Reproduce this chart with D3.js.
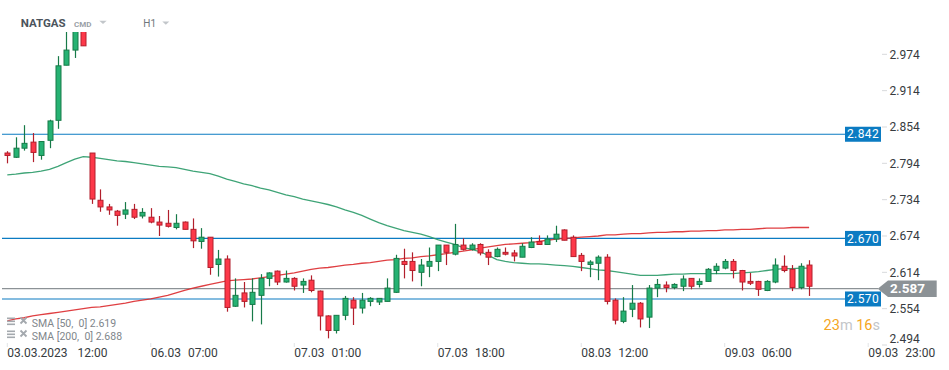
<!DOCTYPE html>
<html><head><meta charset="utf-8">
<script src="https://cdn.jsdelivr.net/npm/d3@7"></script>
<style>
html,body{margin:0;padding:0;background:#fff;}
svg{display:block;font-family:Roboto,"Noto Sans",sans-serif;}
</style></head>
<body><svg id="c" width="949" height="370"></svg>
<script>
const opens  = [2.811,2.804,2.819,2.829,2.807,2.832,2.865,2.956,2.981,3.015,2.811,2.733,2.722,2.715,2.710,2.718,2.707,2.705,2.697,2.695,2.688,2.697,2.685,2.665,2.672,2.627,2.636,2.558,2.580,2.561,2.576,2.604,2.616,2.598,2.604,2.593,2.601,2.583,2.542,2.518,2.543,2.568,2.555,2.566,2.565,2.566,2.581,2.632,2.632,2.614,2.624,2.632,2.659,2.644,2.659,2.652,2.660,2.647,2.640,2.647,2.646,2.639,2.655,2.665,2.660,2.669,2.684,2.672,2.642,2.627,2.629,2.639,2.568,2.533,2.553,2.563,2.540,2.588,2.593,2.589,2.591,2.604,2.594,2.599,2.617,2.621,2.632,2.617,2.599,2.599,2.584,2.598,2.624,2.619,2.589,2.626];
const highs  = [2.814,2.837,2.857,2.844,2.830,2.866,2.971,3.020,3.030,3.025,2.811,2.751,2.727,2.717,2.730,2.727,2.720,2.720,2.707,2.717,2.710,2.698,2.703,2.687,2.672,2.651,2.642,2.604,2.598,2.604,2.611,2.614,2.617,2.617,2.606,2.604,2.609,2.584,2.543,2.543,2.575,2.573,2.580,2.573,2.571,2.604,2.643,2.653,2.647,2.636,2.655,2.659,2.659,2.694,2.670,2.662,2.662,2.652,2.655,2.655,2.651,2.662,2.672,2.675,2.675,2.691,2.685,2.675,2.646,2.634,2.642,2.644,2.571,2.573,2.593,2.565,2.593,2.603,2.599,2.596,2.609,2.604,2.604,2.621,2.629,2.636,2.636,2.618,2.613,2.600,2.601,2.637,2.642,2.626,2.629,2.634];
const lows   = [2.794,2.803,2.815,2.796,2.800,2.819,2.851,2.956,2.968,2.988,2.727,2.714,2.709,2.691,2.702,2.702,2.703,2.695,2.674,2.688,2.685,2.685,2.654,2.653,2.610,2.607,2.549,2.557,2.556,2.533,2.528,2.591,2.593,2.597,2.584,2.580,2.581,2.518,2.505,2.513,2.535,2.527,2.546,2.558,2.560,2.566,2.580,2.604,2.599,2.591,2.606,2.616,2.626,2.642,2.650,2.650,2.642,2.626,2.639,2.642,2.632,2.639,2.654,2.660,2.660,2.664,2.667,2.640,2.616,2.606,2.601,2.561,2.528,2.530,2.540,2.523,2.522,2.573,2.581,2.586,2.583,2.586,2.589,2.598,2.611,2.619,2.604,2.584,2.593,2.575,2.583,2.596,2.614,2.583,2.586,2.575];
const closes = [2.807,2.819,2.827,2.812,2.830,2.864,2.955,2.981,3.015,2.988,2.735,2.722,2.717,2.708,2.717,2.705,2.713,2.697,2.692,2.690,2.695,2.685,2.666,2.672,2.622,2.636,2.556,2.576,2.566,2.581,2.604,2.613,2.598,2.604,2.591,2.599,2.584,2.542,2.518,2.543,2.571,2.555,2.568,2.571,2.571,2.588,2.637,2.627,2.617,2.626,2.632,2.659,2.647,2.660,2.652,2.659,2.646,2.639,2.652,2.644,2.641,2.657,2.664,2.660,2.669,2.677,2.667,2.640,2.632,2.631,2.639,2.566,2.535,2.550,2.563,2.537,2.588,2.594,2.589,2.594,2.603,2.591,2.599,2.619,2.624,2.632,2.617,2.598,2.596,2.586,2.599,2.626,2.617,2.589,2.624,2.591];
const sma50  = [2.775,2.776,2.778,2.779,2.781,2.784,2.789,2.795,2.801,2.805,2.804,2.802,2.800,2.798,2.797,2.795,2.793,2.791,2.789,2.788,2.787,2.784,2.781,2.779,2.777,2.773,2.768,2.764,2.760,2.757,2.753,2.750,2.746,2.742,2.739,2.735,2.732,2.729,2.726,2.722,2.717,2.713,2.708,2.702,2.696,2.691,2.687,2.683,2.680,2.677,2.673,2.668,2.664,2.660,2.655,2.652,2.648,2.642,2.635,2.632,2.630,2.629,2.628,2.628,2.627,2.626,2.625,2.624,2.622,2.620,2.618,2.617,2.615,2.613,2.611,2.609,2.609,2.609,2.610,2.611,2.611,2.612,2.612,2.612,2.612,2.612,2.612,2.613,2.614,2.615,2.617,2.619,2.620,2.620,2.621,2.621];
const sma200 = [2.534,2.537,2.539,2.542,2.544,2.546,2.548,2.550,2.552,2.554,2.556,2.557,2.559,2.561,2.563,2.566,2.568,2.570,2.573,2.576,2.580,2.584,2.588,2.591,2.594,2.597,2.600,2.601,2.602,2.603,2.605,2.607,2.609,2.611,2.613,2.616,2.619,2.621,2.622,2.624,2.626,2.627,2.629,2.630,2.632,2.634,2.635,2.637,2.638,2.640,2.641,2.643,2.645,2.647,2.649,2.651,2.654,2.656,2.658,2.660,2.661,2.662,2.663,2.665,2.667,2.669,2.670,2.671,2.672,2.673,2.674,2.676,2.676,2.677,2.678,2.678,2.679,2.680,2.680,2.681,2.681,2.682,2.682,2.683,2.683,2.684,2.684,2.685,2.685,2.686,2.687,2.687,2.687,2.688,2.688,2.688];
const yTicks = [2.974,2.914,2.854,2.794,2.734,2.674,2.614,2.554,2.494];
const xTickIdx = [0,17,34,51,68,85,102];
const xTickDates = ["03.03.2023","06.03","07.03","07.03","08.03","09.03","09.03"];
const xTickTimes = ["12:00","07:00","01:00","18:00","12:00","06:00","23:00"];
const levels = [2.842,2.670,2.570];
const lastPrice = 2.587;
const smaLabels = ["SMA [50,  0] 2.619","SMA [200,  0] 2.688"];
const instrument = "NATGAS", market = "CMD", timeframe = "H1";

const svg = d3.select("#c");
const y = d3.scaleLinear().domain([2.494, 3.0092]).range([345, 33]);
const x = d3.scaleLinear().domain([0, 102]).range([7.3, 868.2]);

const GREEN_F="#26b273", GREEN_S="#177a48", RED_F="#fd3849", RED_S="#b21f2c", BLUE="#0b7bc2", GRAY="#8c9296";

svg.append("defs").append("clipPath").attr("id","plot").append("rect")
  .attr("x",0).attr("y",32).attr("width",880).attr("height",314);
const plot = svg.append("g").attr("clip-path","url(#plot)");

// level lines
levels.forEach(v=>{
  plot.append("line").attr("x1",2).attr("x2",845).attr("y1",y(v)).attr("y2",y(v))
    .attr("stroke",BLUE).attr("stroke-width",1.2);
});
plot.append("line").attr("x1",2).attr("x2",878).attr("y1",y(lastPrice)).attr("y2",y(lastPrice))
  .attr("stroke",GRAY).attr("stroke-width",1.2);

// SMA lines
const line = d3.line().x((d,i)=>x(i)).y(d=>y(d));
plot.append("path").datum(sma50).attr("d",line).attr("fill","none").attr("stroke","#2a9a68").attr("stroke-width",1.3).attr("opacity",0.9);
plot.append("path").datum(sma200).attr("d",line).attr("fill","none").attr("stroke","#dc2a2e").attr("stroke-width",1.3).attr("opacity",0.9);

// candles
const candles = opens.map((o,i)=>({i,o,h:highs[i],l:lows[i],c:closes[i]}));
const cg = plot.selectAll("g.c").data(candles).join("g");
cg.append("line").attr("x1",d=>Math.round(x(d.i))+0.5).attr("x2",d=>Math.round(x(d.i))+0.5)
  .attr("y1",d=>y(d.h)).attr("y2",d=>y(d.l))
  .attr("stroke",d=>d.c>=d.o?GREEN_S:RED_S).attr("stroke-width",1.2);
cg.append("rect").attr("x",d=>Math.round(x(d.i))-2).attr("width",5)
  .attr("y",d=>y(Math.max(d.o,d.c))).attr("height",d=>Math.max(1,Math.abs(y(d.o)-y(d.c))))
  .attr("fill",d=>d.c>=d.o?GREEN_F:RED_F).attr("stroke",d=>d.c>=d.o?GREEN_S:RED_S).attr("stroke-width",1);

// y axis
const ya = svg.append("g");
yTicks.forEach(v=>{
  const yy = y(v);
  ya.append("line").attr("x1",882).attr("x2",887).attr("y1",yy).attr("y2",yy).attr("stroke","#d8dadc");
  ya.append("text").attr("x",889.5).attr("y",Math.min(yy,339)+4.3).attr("font-size",12).attr("fill","#363b40").text(v.toFixed(3));
});

// level labels
levels.forEach(v=>{
  const yy=y(v);
  svg.append("rect").attr("x",845).attr("y",yy-7.5).attr("width",36).attr("height",15).attr("fill",BLUE);
  svg.append("text").attr("x",863).attr("y",yy+4.2).attr("text-anchor","middle").attr("font-size",12)
    .attr("letter-spacing",0.4).attr("fill","#fff").text(v.toFixed(3));
});
// last price tag
{
  const yy=y(lastPrice);
  svg.append("path").attr("d",`M877.7,${yy}L888,${yy-8.3}L936.7,${yy-8.3}L936.7,${yy+8.3}L888,${yy+8.3}Z`).attr("fill",GRAY);
  svg.append("text").attr("x",890).attr("y",yy+4.8).attr("font-size",13.5).attr("font-weight","bold").attr("fill","#fff").text(lastPrice.toFixed(3));
}

// countdown
const cd = svg.append("text").attr("x",880).attr("y",329.5).attr("text-anchor","end").attr("font-size",14.5);
cd.append("tspan").attr("fill","#f5a623").text("23");
cd.append("tspan").attr("fill","#c3c6c9").text("m ");
cd.append("tspan").attr("fill","#f5a623").text("16");
cd.append("tspan").attr("fill","#c3c6c9").text("s");

// x axis
xTickIdx.forEach((idx,k)=>{
  const xx = x(idx);
  svg.append("line").attr("x1",xx).attr("x2",xx).attr("y1",343).attr("y2",347).attr("stroke","#e2e4e6");
  const t = svg.append("text").attr("x",xx).attr("y",357).attr("font-size",12).attr("fill","#363b40");
  t.append("tspan").text(xTickDates[k]);
  t.append("tspan").attr("dx",k===0?10:7).text(xTickTimes[k]);
});

// header
svg.append("text").attr("x",20.7).attr("y",27.3).attr("font-size",11.5).attr("font-weight","bold").attr("fill","#4b545c").text(instrument);
svg.append("text").attr("x",74).attr("y",26.7).attr("font-size",8).attr("font-weight","bold").attr("fill","#9aa1a7").text(market);
svg.append("path").attr("d","M99.3,20.7L106.7,20.7L103,24Z").attr("fill","#c2c6ca");
svg.append("text").attr("x",143.3).attr("y",26.7).attr("font-size",10).attr("fill","#6e767c").text(timeframe);
svg.append("path").attr("d","M162.3,21.5L169.3,21.5L165.8,24.7Z").attr("fill","#c2c6ca");

// legend
smaLabels.forEach((s,k)=>{
  const by = 327 + k*13;
  const g = svg.append("g");
  [0,3,6].forEach(o=>g.append("rect").attr("x",7).attr("y",by-9.5+o).attr("width",8).attr("height",1.6).attr("fill","#a4a9ae"));
  g.append("path").attr("d",`M20.5,${by-9.5}L26.5,${by-3.5}M26.5,${by-9.5}L20.5,${by-3.5}`).attr("stroke","#a4a9ae").attr("stroke-width",1.8);
  g.append("text").attr("x",31.7).attr("y",by).attr("font-size",10.5).attr("fill","#80868b").attr("style","white-space:pre").text(s);
});
</script></body></html>
